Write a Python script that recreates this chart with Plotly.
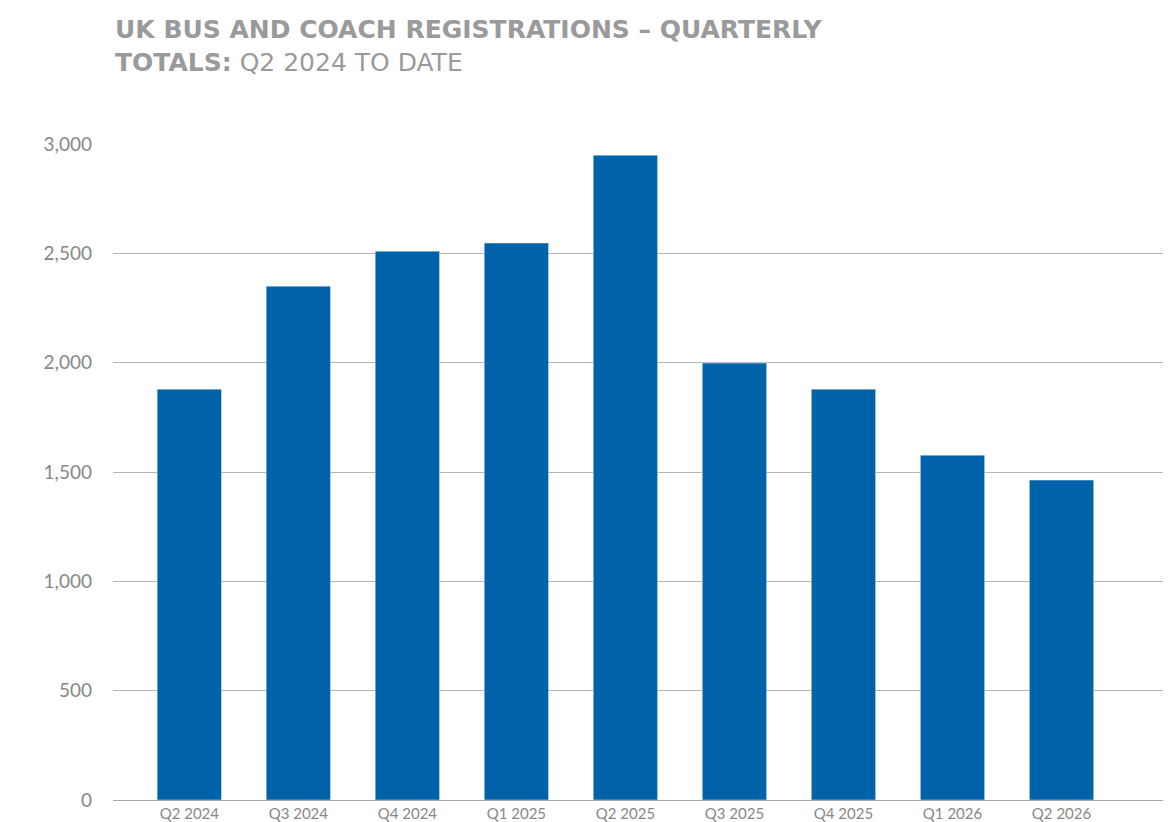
import plotly.graph_objects as go

quarters = ["Q2 2024", "Q3 2024", "Q4 2024", "Q1 2025", "Q2 2025", "Q3 2025", "Q4 2025", "Q1 2026", "Q2 2026"]
registrations = [1879, 2350, 2510, 2547, 2949, 1998, 1879, 1577, 1463]
y_ticks = [0, 500, 1000, 1500, 2000, 2500, 3000]

fig = go.Figure(go.Bar(x=quarters, y=registrations, marker_color="#0062a8", width=0.59))
fig.update_layout(
    width=1171, height=822, plot_bgcolor="white", paper_bgcolor="white",
    margin=dict(l=105, r=3, t=136, b=30), showlegend=False,
    font=dict(family="Lato, DejaVu Sans", color="#888888"),
)
fig.add_annotation(x=0, y=1 + 131 / 656, xref="paper", yref="paper", xanchor="left", yanchor="top",
    showarrow=False, align="left",
    text="<b>UK BUS AND COACH REGISTRATIONS – QUARTERLY</b><br><b>TOTALS:</b> Q2 2024 TO DATE",
    font=dict(family="DejaVu Sans", size=25, color="#9a9a9a"))
fig.update_xaxes(range=[-0.7, 9.05], showgrid=False, showline=True, linecolor="#aaaaaa",
                 tickfont=dict(size=15, color="#888888"), ticks="")
fig.update_yaxes(range=[0, 3000], tickvals=y_ticks, tickformat=",", showgrid=True,
                 gridcolor="#b5b5b5", zeroline=False, tickfont=dict(size=19, color="#888888"),
                 ticklabelstandoff=20)
fig.write_html("out.html")
